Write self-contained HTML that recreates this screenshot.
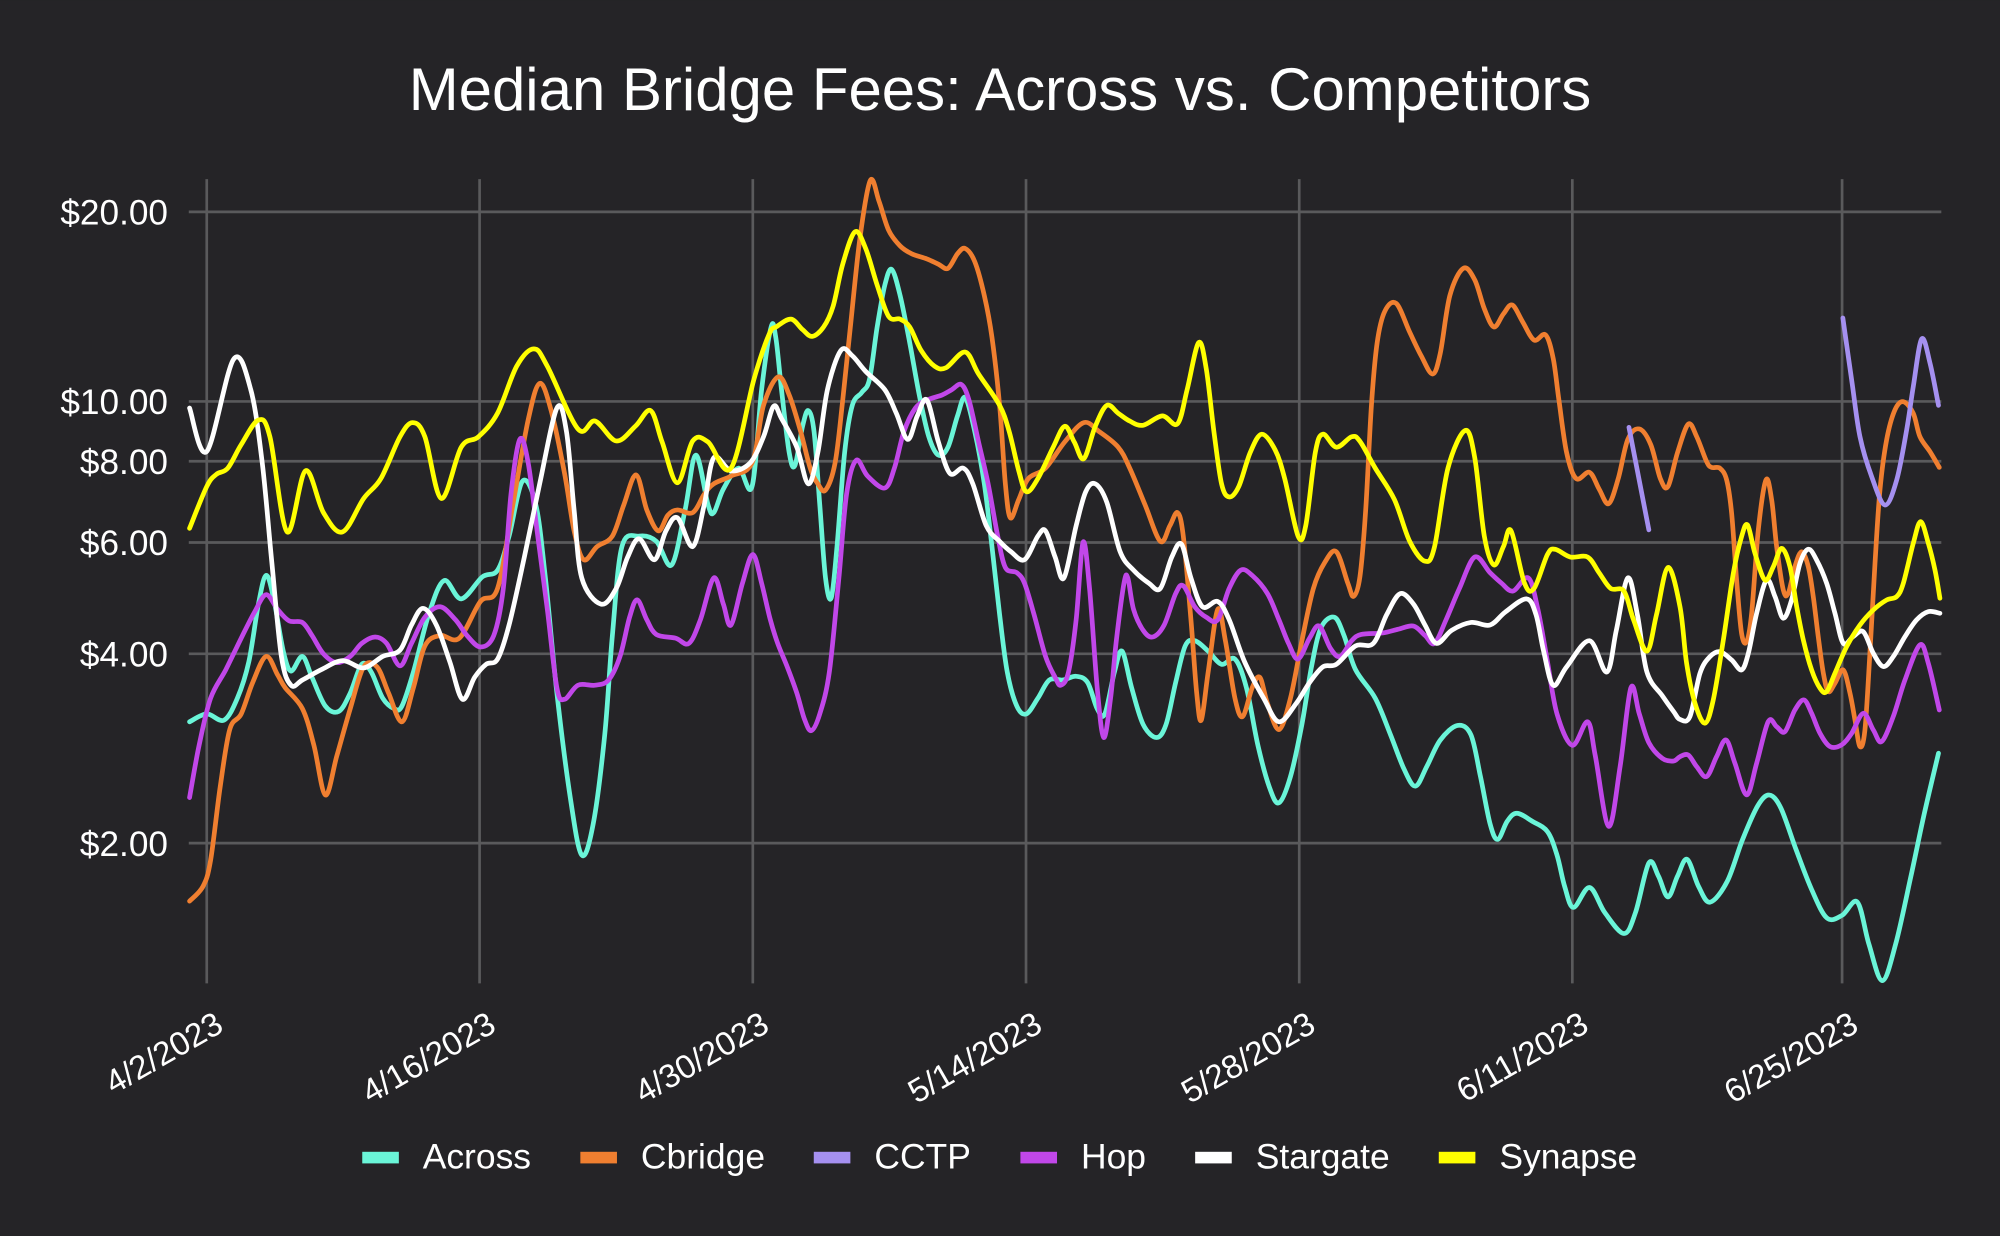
<!DOCTYPE html>
<html>
<head>
<meta charset="utf-8">
<style>
html,body{margin:0;padding:0;background:#252427;}
svg{display:block;}
text{font-family:"Liberation Sans",Arial,Helvetica,sans-serif;fill:#ffffff;}
</style>
</head>
<body>
<svg id="chart" width="2000" height="1236" viewBox="0 0 1568 969" xmlns="http://www.w3.org/2000/svg">
<rect x="0" y="0" width="1568" height="969" fill="#252427"/>
<text x="784" y="86.2" font-size="47" text-anchor="middle">Median Bridge Fees: Across vs. Competitors</text>
<g stroke="#5a5a5c" stroke-width="2.1" fill="none">
<line x1="162.1" y1="140.4" x2="162.1" y2="771"/>
<line x1="376" y1="140.4" x2="376" y2="771"/>
<line x1="590.2" y1="140.4" x2="590.2" y2="771"/>
<line x1="804.4" y1="140.4" x2="804.4" y2="771"/>
<line x1="1018.6" y1="140.4" x2="1018.6" y2="771"/>
<line x1="1232.7" y1="140.4" x2="1232.7" y2="771"/>
<line x1="1444.2" y1="140.4" x2="1444.2" y2="771"/>
<line x1="148" y1="166.1" x2="1522" y2="166.1"/>
<line x1="148" y1="314.7" x2="1522" y2="314.7"/>
<line x1="148" y1="361.6" x2="1522" y2="361.6"/>
<line x1="148" y1="425.3" x2="1522" y2="425.3"/>
<line x1="148" y1="512.6" x2="1522" y2="512.6"/>
<line x1="148" y1="661" x2="1522" y2="661"/>
</g>
<g font-size="27.6" text-anchor="end">
<text x="131.7" y="176.1">$20.00</text>
<text x="131.7" y="324.7">$10.00</text>
<text x="131.7" y="371.6">$8.00</text>
<text x="131.7" y="435.3">$6.00</text>
<text x="131.7" y="522.6">$4.00</text>
<text x="131.7" y="671">$2.00</text>
</g>
<g font-size="26" text-anchor="end">
<text transform="translate(176.6,807.8) rotate(-30)">4/2/2023</text>
<text transform="translate(390.3,807.8) rotate(-30)">4/16/2023</text>
<text transform="translate(604.5,807.8) rotate(-30)">4/30/2023</text>
<text transform="translate(818.7,807.8) rotate(-30)">5/14/2023</text>
<text transform="translate(1032.9,807.8) rotate(-30)">5/28/2023</text>
<text transform="translate(1247,807.8) rotate(-30)">6/11/2023</text>
<text transform="translate(1458.5,807.8) rotate(-30)">6/25/2023</text>
</g>
<g fill="none" stroke-width="3.7" stroke-linejoin="round" stroke-linecap="round">
<polyline class="s" stroke="#6af5d8" points="148.6,565.9 162.1,559.7 175.6,564.6 186.1,547.4 195.1,518.7 202.6,473.6 208.6,451.1 214.6,469.5 222.1,510.5 228.1,526.1 237.1,514.6 244.6,531.0 255.1,553.6 265.6,557.7 274.6,543.3 283.6,520.8 291.1,526.9 300.1,547.4 309.1,555.6 315.1,553.6 324.1,526.9 336.1,481.8 348.1,455.2 361.6,469.5 378.1,452.3 390.1,447.0 399.1,420.3 409.6,377.3 420.1,395.7 427.6,453.1 436.6,543.3 447.1,625.3 456.1,670.4 465.1,645.8 474.1,576.1 480.1,498.2 487.6,428.5 501.1,420.3 514.6,424.4 526.6,442.9 537.1,399.8 545.5,356.8 555.1,395.7 559.6,401.9 567.1,383.4 579.1,367.0 589.6,381.4 597.1,305.5 604.5,256.5 608.2,264.5 612.7,305.5 618.7,354.7 623.2,365.0 629.2,334.2 633.7,321.9 638.2,338.3 642.7,395.7 647.2,453.1 651.7,468.7 656.2,428.5 662.2,354.7 668.2,317.8 675.7,307.6 681.7,297.3 687.7,256.3 693.7,223.5 699.1,211.2 705.7,231.7 713.2,268.6 720.7,309.6 728.2,342.4 735.7,356.8 743.2,350.6 750.7,326.0 756.7,311.7 764.2,338.3 771.7,379.3 777.7,428.5 783.7,481.8 789.7,526.9 797.2,553.6 804.7,559.7 813.7,547.4 822.7,533.1 833.2,533.1 843.7,530.2 852.7,535.1 860.2,555.6 866.2,559.7 873.7,526.9 879.7,510.5 887.2,539.2 896.2,567.9 906.7,578.2 914.2,567.9 921.7,535.1 929.2,506.4 936.7,502.3 947.2,510.5 957.7,520.8 968.2,516.7 977.2,539.2 986.2,584.3 995.2,617.1 1002.7,629.4 1011.7,608.9 1020.7,567.9 1028.2,522.8 1035.7,492.1 1046.2,483.9 1053.7,498.2 1062.7,524.9 1078.2,547.4 1090.2,576.1 1100.7,602.8 1109.7,616.3 1118.7,600.7 1129.2,580.2 1142.7,568.7 1153.2,576.1 1160.7,608.9 1168.2,645.8 1174.2,658.1 1181.7,643.8 1189.2,637.6 1201.2,643.8 1213.2,652.0 1220.7,670.4 1226.7,695.0 1233.6,711.4 1246.2,695.8 1258.2,715.5 1273.2,731.9 1282.2,715.5 1292.7,676.6 1300.2,686.8 1307.7,703.2 1315.2,686.8 1322.7,673.7 1331.7,695.0 1340.7,707.3 1354.2,690.9 1366.2,658.1 1378.2,631.5 1387.2,623.3 1396.2,633.5 1408.2,666.3 1420.2,697.1 1432.2,719.6 1444.2,717.6 1456.2,707.3 1465.2,740.1 1475.7,768.8 1486.2,740.1 1498.2,686.8 1508.7,637.6 1519.8,590.5"/>
<polyline class="s" stroke="#f07f30" points="148.6,706.5 159.1,695.0 165.1,674.5 172.6,617.1 180.1,572.0 189.1,559.7 198.1,535.1 208.6,514.6 217.6,529.0 223.6,539.2 237.1,555.6 246.1,584.3 255.1,623.3 264.1,592.5 274.6,555.6 285.1,522.8 295.6,522.8 304.6,543.3 315.1,565.9 324.1,539.2 333.1,506.4 345.1,498.2 360.1,500.3 376.6,471.6 390.1,461.3 402.1,395.7 414.1,329.1 423.1,300.6 432.1,321.9 442.6,371.1 450.1,416.2 457.6,438.8 468.1,428.5 480.1,420.3 489.1,395.7 498.7,372.3 507.1,399.8 516.1,416.2 523.6,403.9 531.1,399.8 543.1,401.9 552.1,387.5 559.6,379.3 573.1,373.2 589.6,362.9 598.6,317.8 610.0,295.5 618.7,309.6 627.7,338.3 635.2,367.0 641.2,379.3 647.2,384.2 654.7,362.9 660.7,313.7 666.7,256.3 674.2,186.6 682.3,141.5 689.2,157.9 696.7,180.5 705.7,192.8 714.7,198.9 726.7,203.0 735.7,207.1 743.2,210.4 750.7,198.9 756.7,194.8 764.2,205.1 771.7,231.7 777.7,264.5 783.7,317.8 788.2,379.3 792.1,406.0 798.7,391.6 806.2,375.2 819.7,367.0 834.7,346.5 849.7,331.3 861.7,338.3 876.7,350.6 885.7,367.0 897.7,395.7 909.7,424.4 917.2,412.1 923.2,401.9 927.7,420.3 933.7,485.9 938.2,543.3 941.8,564.6 947.2,526.9 954.7,477.7 960.7,502.3 968.2,547.4 974.2,561.8 981.7,539.2 987.7,531.0 993.7,551.5 1002.7,572.0 1011.7,547.4 1020.7,502.3 1029.7,461.3 1038.7,440.8 1047.7,432.6 1056.7,457.2 1061.2,467.5 1066.2,452 1070.7,399.8 1075.2,317.8 1079.7,268.6 1085.7,244.0 1094.7,237.9 1105.2,260.4 1114.2,278.9 1123.2,293.2 1129.2,276.8 1136.7,231.7 1147.2,210.4 1156.2,219.4 1163.7,242.0 1171.2,256.3 1178.7,246.1 1185.6,239.1 1193.7,252.2 1202.7,266.6 1211.7,262.5 1217.7,280.9 1222.2,313.7 1228.2,354.7 1235.7,375.2 1246.2,370.3 1253.7,383.4 1261.2,394.9 1268.7,375.2 1276.2,344.5 1285.2,336.3 1294.2,348.6 1301.7,375.2 1307.7,381.4 1315.2,354.7 1323.6,332.5 1330.2,342.3 1338.0,361.9 1341.9,366.4 1348.5,367.1 1353.7,376.3 1357.6,402.4 1361.5,454.7 1365.4,496.5 1369.4,503.0 1373.3,480.8 1378.5,415.5 1384.5,376.3 1389.0,392.0 1392.9,428.6 1398.1,462.5 1402.0,465.1 1407.2,444.2 1412.5,432.5 1417.7,444.2 1421.6,467.7 1425.5,499.1 1429.5,527.8 1433.4,542.2 1438.6,535.7 1445.1,525.2 1450.4,543.5 1454.3,564.4 1458.2,585.3 1462.1,572.3 1466.0,512.2 1470.0,441.6 1473.9,384.1 1479.1,344.9 1485.6,321.4 1492.2,314.9 1500.0,324.0 1505.2,342.3 1513.1,354.1 1520.4,366.4"/>
<polyline stroke="#a590f0" points="1277.1,335.0 1292.7,415.4"/>
<polyline class="s" stroke="#a590f0" points="1444.8,249.3 1452,300 1458.2,342.3 1467.4,373.7 1477.8,395.9 1487.0,376.3 1494.8,337.1 1500.0,303.1 1506.6,265.7 1513.2,285.0 1519.8,317.8"/>
<polyline class="s" stroke="#c147e9" points="148.6,625.3 156.1,584.3 165.1,547.4 177.1,524.9 189.1,500.3 199.6,479.8 208.6,466.2 217.6,477.7 226.6,486.7 237.1,488.0 244.6,498.2 253.6,512.6 264.1,519.5 274.6,514.6 283.6,504.4 294.1,499.4 303.1,504.4 313.6,522.0 322.6,504.4 333.1,483.9 345.1,475.7 357.1,485.9 366.1,498.2 376.6,507.2 387.1,498.2 394.6,461.3 400.6,387.5 407.5,344.5 414.1,362.9 421.6,420.3 429.1,477.7 436.6,539.2 442.6,548.2 453.1,537.2 466.6,537.2 477.1,533.1 486.1,514.6 493.6,483.9 499.6,470.3 507.1,485.9 514.6,497.4 529.6,500.3 540.1,504.4 549.1,485.9 559.6,453.1 567.1,473.6 573.1,490.0 582.1,457.2 590.2,434.7 597.1,457.2 603.7,485 609.7,504.4 617.2,522.8 624.7,543.3 630.7,563.8 636.1,572.8 642.7,559.7 650.2,526.9 657.7,453.1 663.7,387.5 671.2,360.9 680.2,373.2 693.7,382.6 701.2,367.0 708.7,338.3 717.7,319.9 726.7,313.7 738.7,309.6 746.2,305.5 753.7,301.4 759.7,313.7 767.2,346.5 774.7,379.3 782.2,420.3 788.2,444.9 797.2,449.0 803.2,457.2 810.7,481.8 819.7,514.6 827.2,531.0 831.7,537.2 837.7,526.9 843.7,485.9 849.1,425.2 854.2,461.3 860.2,539.2 865.3,578.2 870.7,547.4 875.2,502.3 881.2,457.2 884.2,453.1 888.7,477.7 896.2,494.1 903.7,499.4 912.7,490.0 921.7,465.4 927.7,459.3 936.7,475.7 945.7,483.9 954.7,485.9 963.7,461.3 972.7,447.0 981.7,451.1 993.7,465.4 1002.7,485.9 1010.2,504.4 1017.7,516.7 1026.7,500.3 1034.2,490.8 1043.2,508.5 1050.7,514.6 1059.7,502.3 1067.2,497.4 1084.2,496.2 1096.2,493.3 1108.2,490.8 1117.2,498.2 1124.7,504.4 1133.7,485.9 1144.2,461.3 1156.2,436.7 1168.2,449.0 1177.2,457.2 1186.2,463.4 1198.2,453.1 1205.7,477.7 1213.2,518.7 1220.7,559.7 1232.7,584.3 1244.7,565.9 1250.7,592.5 1261.2,647.8 1270.2,600.7 1278.6,539.2 1285.2,559.7 1292.7,582.2 1303.2,594.5 1312.2,596.6 1317.1,593.2 1323.6,591.9 1330.2,601.0 1338.0,608.8 1345.8,593.2 1353.2,580.1 1360.2,598.4 1369.4,623.2 1377.2,598.4 1386.3,565.7 1392.9,569.7 1399.4,573.6 1407.2,556.6 1414.3,548.7 1420.3,559.2 1426.9,574.9 1434.7,585.3 1443.8,584.0 1451.7,574.9 1460.8,559.2 1468.7,572.3 1475.2,581.4 1484.3,561.8 1493.5,533.1 1505.2,505.6 1511.8,520.0 1520.4,556.6"/>
<polyline class="s" stroke="#ffffff" points="148.6,319.9 162.1,353.9 183.1,281.7 196.6,305.5 205.6,362.9 213.1,440.8 220.6,514.6 228.1,537.2 237.1,533.1 252.1,524.9 268.6,517.9 285.1,523.6 300.1,514.6 313.6,509.7 322.6,490.0 331.6,476.9 342.1,490.0 352.6,518.7 362.5,548.2 372.1,531.0 381.1,520.8 390.1,516.7 399.1,490.0 411.1,436.7 423.1,379.3 436.6,319.9 444.1,338.3 450.1,399.8 456.1,453.1 471.1,473.6 483.1,461.3 492.1,436.7 501.1,422.4 513.1,438.8 522.1,416.2 531.1,405.9 543.1,428.5 552.1,395.7 559.6,358.8 573.1,369.1 588.1,362.9 598.6,342.4 606.5,318.5 612.7,328.1 624.7,350.6 633.7,379.3 641.2,354.7 648.7,305.5 659.2,274.8 668.2,278.9 678.7,291.2 693.7,305.5 702.7,324.0 711.7,344.5 719.2,326.0 726.7,313.7 735.7,346.5 744.7,371.1 755.2,367.0 762.7,379.3 773.2,412.1 783.7,424.4 792.7,432.6 803.2,438.8 813.7,420.3 819.7,416.2 827.2,436.7 834.1,453.1 843.7,412.1 851.2,385.5 858.7,379.3 867.7,393.7 878.2,432.6 888.7,447.0 900.7,457.2 909.7,461.3 918.7,436.7 926.2,426.5 933.7,453.1 942.7,475.7 954.7,471.6 963.7,485.9 975.7,518.7 990.7,547.4 1002.7,565.9 1016.2,551.5 1026.7,535.1 1037.2,522.8 1047.7,520.8 1062.7,506.4 1076.7,504.4 1087.2,481.8 1097.7,465.4 1108.2,473.6 1117.2,490.0 1126.2,504.4 1138.2,494.1 1153.2,488.0 1168.2,490.0 1180.2,479.8 1196.7,469.5 1204.2,481.8 1210.2,510.5 1217.7,537.2 1228.2,522.8 1246.2,502.3 1259.7,526.9 1267.2,494.1 1276.2,453.1 1283.7,481.8 1291.2,526.9 1303.2,545.4 1312.2,558 1317.1,564 1324.9,561.8 1332.8,527.8 1340.6,514.8 1348.5,510.9 1357.6,517.4 1365.4,525.2 1370.7,512.2 1377.2,480.8 1385.0,454.7 1391.6,467.7 1398.1,484.7 1404.6,470.4 1411.2,441.6 1417.7,430.6 1424.2,439.0 1432.1,457.3 1438.6,480.8 1445.1,504.3 1452.9,499.1 1460.8,495.2 1468.7,512.2 1476.5,522.6 1484.3,514.8 1493.5,499.1 1502.6,486.0 1511.8,479.5 1520.9,480.8"/>
<polyline class="s" stroke="#ffff00" points="148.6,414.2 162.1,381.4 169.6,371.9 178.6,367.0 189.1,348.6 202.6,329.3 211.6,342.4 225.1,417.0 239.5,369.1 253.6,401.9 268.6,417.0 285.1,390.8 298.6,375.2 313.6,342.4 323.5,331.3 333.1,342.4 346.0,390.8 361.6,350.6 375.1,342.4 390.1,323.9 405.1,287.1 418.6,273.5 429.1,287.1 453.1,336.3 466.6,330.1 483.1,345.7 498.1,334.2 510.1,321.9 519.1,346.5 531.1,378.5 543.1,345.7 555.1,346.5 573.1,367.0 591.1,297.3 603,262 609,256 620.2,250.2 629.2,258.4 636.7,263.7 645.7,256.3 653.2,239.9 660.7,207.1 670.3,181.7 678.7,194.8 687.7,223.5 696.7,248.1 705.7,250.2 713.2,256.3 722.2,274.8 732.7,287.1 741.7,288.3 756.7,276.0 767.2,293.2 783.7,317.8 791.2,338.3 798.7,369.1 804.7,385.5 813.7,375.2 825.7,350.6 834.7,334.2 842.2,346.5 849.7,359.6 858.7,334.2 867.7,317.8 876.7,324.0 885.7,330.1 896.2,333.4 911.2,326.0 923.2,332.2 930.7,305.5 939.7,268.6 945.7,289.1 951.7,338.3 957.7,379.3 963.7,389.6 971.2,381.4 980.2,354.7 989.2,340.4 999.7,352.7 1007.2,375.2 1017.7,420.3 1023.7,412.1 1031.2,354.7 1037.2,340.4 1047.7,350.6 1059.7,342.4 1066.2,346 1078.2,367.0 1093.2,391.6 1105.2,424.4 1117.2,440.0 1124.7,428.5 1135.2,367.0 1148.7,337.5 1156.2,358.8 1163.7,420.3 1171.2,442.9 1178.7,428.5 1184.7,416.2 1195.2,457.2 1202.7,461.3 1213.2,434.7 1219.2,430.6 1231.2,436.7 1244.7,436.7 1253.7,449.0 1262.7,461.3 1273.2,463.4 1280.7,485.9 1291.2,510.5 1298.7,481.8 1307.7,444.9 1317.1,475.6 1322.3,520.0 1328.9,551.4 1336.7,567.0 1343.2,548.7 1351.1,501.7 1358.9,449.5 1365.4,420.7 1370.1,411.6 1375.9,433.8 1383.7,454.7 1390.3,444.2 1396.8,429.9 1403.3,444.2 1408.6,475.6 1413.8,501.7 1420.3,525.2 1426.9,539.6 1432.1,542.2 1438.6,527.8 1447.8,506.9 1458.2,490.0 1468.7,478.2 1479.1,470.4 1487.0,467.7 1492.2,457.3 1500.0,425.9 1505.8,408.9 1511.8,425.9 1517.0,446.8 1520.9,469.0"/>
</g>
<g>
<rect x="284" y="903" width="28.7" height="9.1" fill="#6af5d8"/>
<rect x="455" y="903" width="28.7" height="9.1" fill="#f07f30"/>
<rect x="638" y="903" width="28.7" height="9.1" fill="#a590f0"/>
<rect x="800" y="903" width="28.7" height="9.1" fill="#c147e9"/>
<rect x="937" y="903" width="28.7" height="9.1" fill="#ffffff"/>
<rect x="1128" y="903" width="28.7" height="9.1" fill="#ffff00"/>
</g>
<g font-size="27.8">
<text x="331.4" y="916">Across</text>
<text x="502.5" y="916">Cbridge</text>
<text x="685.5" y="916">CCTP</text>
<text x="847.5" y="916">Hop</text>
<text x="984.5" y="916">Stargate</text>
<text x="1175.5" y="916">Synapse</text>
</g>
</svg>
<script>
(function(){
  var NS="http://www.w3.org/2000/svg";
  var lines=document.querySelectorAll("polyline.s");
  for(var k=0;k<lines.length;k++){
    var pl=lines[k];
    var raw=pl.getAttribute("points").trim().split(/\s+/);
    var p=raw.map(function(s){var a=s.split(",");return [parseFloat(a[0]),parseFloat(a[1])];});
    if(p.length<3)continue;
    var d="M"+p[0][0]+","+p[0][1];
    for(var i=0;i<p.length-1;i++){
      var p0=p[i-1]||p[i],p1=p[i],p2=p[i+1],p3=p[i+2]||p[i+1];
      var c1x=p1[0]+(p2[0]-p0[0])/6,c1y=p1[1]+(p2[1]-p0[1])/6;
      var c2x=p2[0]-(p3[0]-p1[0])/6,c2y=p2[1]-(p3[1]-p1[1])/6;
      d+=" C"+c1x.toFixed(2)+","+c1y.toFixed(2)+" "+c2x.toFixed(2)+","+c2y.toFixed(2)+" "+p2[0]+","+p2[1];
    }
    var path=document.createElementNS(NS,"path");
    path.setAttribute("d",d);
    path.setAttribute("stroke",pl.getAttribute("stroke"));
    pl.parentNode.replaceChild(path,pl);
  }
})();
</script>
</body>
</html>
